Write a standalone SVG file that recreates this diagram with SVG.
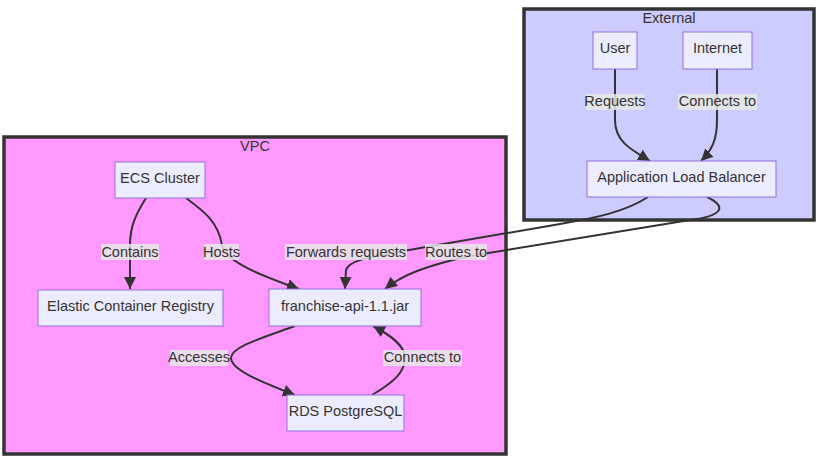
<svg xmlns="http://www.w3.org/2000/svg" width="825" height="462" viewBox="0 0 825 462">
<style>
text{font-family:"Liberation Sans",Arial,sans-serif;font-size:14.5px;fill:#333;text-anchor:middle;dominant-baseline:central}
.cluster{stroke:#333;stroke-width:3.5}
.node rect{fill:#ECECFF;stroke:#9370DB;stroke-width:1}
.edge{fill:none;stroke:#333;stroke-width:2}
.lbl{fill:#e8e8e8;fill-opacity:0.85}
</style>
<defs>
<marker id="arr" viewBox="0 0 10 10" refX="10" refY="5" markerUnits="userSpaceOnUse" markerWidth="12" markerHeight="12" orient="auto">
<path d="M0,0 L10,5 L0,10 z" fill="#333"/>
</marker>
</defs>
<g id="cluster-External">
<rect class="cluster" x="524" y="9" width="290" height="211" fill="#ccccff"/>
<text x="669" y="18">External</text>
</g>
<g id="cluster-VPC">
<rect class="cluster" x="4" y="137" width="502" height="317" fill="#ff99ff"/>
<text x="255" y="146">VPC</text>
</g>
<g id="connectors">
<path class="edge" marker-end="url(#arr)" d="M615,69 L615,120 C615,140 628,148 650,161"/>
<path class="edge" marker-end="url(#arr)" d="M717,69 L717,120 C717,140 712,150 701,161"/>
<path class="edge" marker-end="url(#arr)" d="M146,198 C136,214 130,226 130,245 L130,289"/>
<path class="edge" marker-end="url(#arr)" d="M186,198 C205,212 218,222 222,245 C226,262 260,275 299,289"/>
<path class="edge" marker-end="url(#arr)" d="M648,197 C625,212 595,218 560,224 L420,248 C380,256 350,258 346,270 L345,289"/>
<path class="edge" marker-end="url(#arr)" d="M707,197 C728,207 722,216 690,220 L470,256 C425,266 402,275 385,289"/>
<path class="edge" marker-end="url(#arr)" d="M295,326 C262,338 231,347 231,358 C231,370 262,382 295,395"/>
<path class="edge" marker-end="url(#arr)" d="M372,395 C394,382 405,372 405,358 C405,346 392,336 373,326"/>
<g id="edge-labels">
<rect class="lbl" x="586" y="94" width="58" height="16"/><text x="615" y="101">Requests</text>
<rect class="lbl" x="678" y="94" width="79" height="16"/><text x="717.5" y="101">Connects to</text>
<rect class="lbl" x="101" y="244" width="58" height="16"/><text x="130" y="251.5">Contains</text>
<rect class="lbl" x="204" y="244" width="35" height="16"/><text x="221.5" y="251.5">Hosts</text>
<rect class="lbl" x="285" y="244" width="122" height="16"/><text x="346" y="251.5">Forwards requests</text>
<rect class="lbl" x="425" y="244" width="62" height="16"/><text x="456" y="251.5">Routes to</text>
<rect class="lbl" x="170" y="350" width="58" height="16"/><text x="199" y="357">Accesses</text>
<rect class="lbl" x="383" y="350" width="79" height="16"/><text x="422.5" y="357">Connects to</text>
</g>
</g>
<g id="node-User" class="node"><rect x="593" y="32" width="44" height="37"/><text x="615" y="48">User</text></g>
<g id="node-Internet" class="node"><rect x="683" y="32" width="69" height="37"/><text x="717.5" y="48">Internet</text></g>
<g id="node-ALB" class="node"><rect x="587" y="161" width="189" height="36"/><text x="681.5" y="177">Application Load Balancer</text></g>
<g id="node-ECS" class="node"><rect x="115" y="162" width="90" height="36"/><text x="160" y="178">ECS Cluster</text></g>
<g id="node-ECR" class="node"><rect x="38" y="290" width="185" height="36"/><text x="130.5" y="306">Elastic Container Registry</text></g>
<g id="node-API" class="node"><rect x="269" y="289" width="152" height="37"/><text x="345" y="305.5">franchise-api-1.1.jar</text></g>
<g id="node-RDS" class="node"><rect x="287" y="395" width="117" height="36"/><text x="345.5" y="411">RDS PostgreSQL</text></g>
</svg>
